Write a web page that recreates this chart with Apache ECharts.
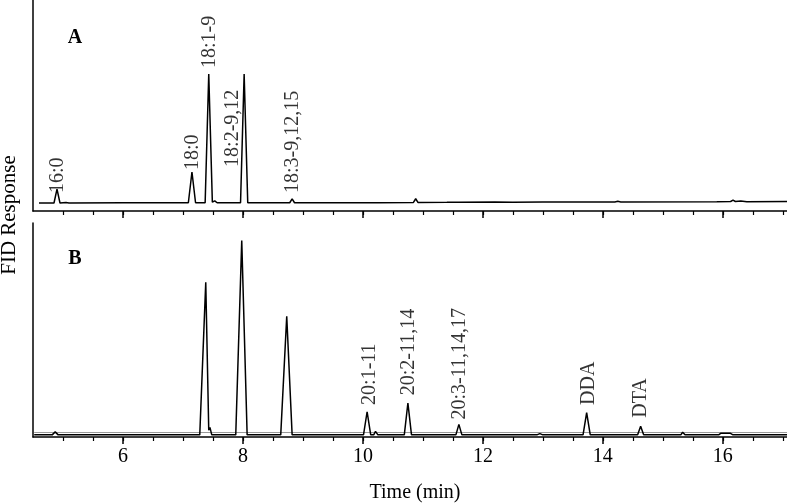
<!DOCTYPE html>
<html>
<head>
<meta charset="utf-8">
<script src="https://cdn.jsdelivr.net/npm/echarts@6/dist/echarts.min.js"></script>
<style>html,body{margin:0;padding:0;background:#fff}#c{width:787px;height:504px}</style>
</head>
<body>
<div id="c"></div>
<script>
// ---- Data (time in min, response in % of panel height) ----
var traceA = [
  [4.60,3.8],[4.85,3.8],[4.90,10.4],[4.95,3.8],[5.05,4.0],[5.10,3.8],[6.00,3.9],
  [7.09,3.9],[7.15,18.5],[7.21,3.9],[7.37,3.9],[7.43,64.9],[7.49,4.2],[7.53,4.8],[7.57,3.9],
  [7.96,3.9],[8.02,64.9],[8.08,3.9],[8.78,3.9],[8.82,5.7],[8.86,3.9],
  [9.88,3.9],[9.91,4.6],[9.95,3.9],[10.18,3.9],[10.21,4.5],[10.25,3.9],
  [10.84,4.0],[10.88,5.8],[10.92,4.0],[11.40,4.1],[11.60,4.2],[12.20,4.3],[12.50,4.2],
  [13.00,4.3],[14.20,4.3],[14.25,4.6],[14.30,4.3],[15.90,4.4],[16.13,4.5],[16.17,5.2],
  [16.21,4.5],[16.30,4.7],[16.40,4.4],[17.07,4.5]
];
var traceB = [
  [4.52,1.0],[4.82,1.0],[4.87,2.4],[4.92,1.0],[5.10,1.0],[5.13,1.9],[5.17,1.0],
  [6.10,1.0],[6.12,1.7],[6.15,1.0],[7.05,1.0],[7.08,1.9],[7.11,1.0],
  [7.28,1.0],[7.38,72.3],[7.43,3.2],[7.45,4.5],[7.48,1.0],
  [7.88,1.0],[7.98,91.8],[8.07,1.0],[8.40,1.0],[8.43,1.8],[8.46,1.0],
  [8.63,1.0],[8.73,56.4],[8.82,1.0],[9.15,1.0],[9.17,1.6],[9.20,1.0],
  [10.01,1.0],[10.07,11.8],[10.13,1.0],[10.18,1.0],[10.21,2.6],[10.25,1.0],
  [10.69,1.0],[10.75,15.9],[10.81,1.0],[11.55,1.0],[11.60,5.9],[11.65,1.0],
  [12.90,1.0],[12.95,1.6],[13.00,1.0],[13.30,1.0],[13.33,1.6],[13.37,1.0],
  [13.67,1.0],[13.73,11.4],[13.79,1.0],[14.58,1.0],[14.63,5.0],[14.68,1.0],
  [15.30,1.0],[15.33,2.2],[15.37,1.0],[15.93,1.0],[15.97,1.8],[16.05,1.7],
  [16.12,1.8],[16.17,1.0],[17.07,1.0]
];
var traceB2 = [[4.52,2.1],[10.0,2.1],[17.07,2.1]];

var labelNamesA = ['16:0','18:0','18:1-9','18:2-9,12','18:3-9,12,15'];
var labelTimesA = [4.92, 7.17, 7.45, 7.83, 8.83];
var labelValsA  = [8.5, 19.4, 67.8, 20.9, 8.5];

var labelNamesB = ['20:1-11','20:2-11,14','20:3-11,14,17','DDA','DTA'];
var labelTimesB = [10.12, 10.77, 11.62, 13.77, 14.63];
var labelValsB  = [15.0, 19.5, 8.2, 15.0, 9.0];

var minorTicks = [5,5.5,6,6.5,7,7.5,8,8.5,9,9.5,10,10.5,11,11.5,12,12.5,13,13.5,14,14.5,15,15.5,16,16.5,17];
var majorTicks = [6,8,10,12,14,16];
var xMin = 4.5, xMax = 17.07;

var serif = 'Liberation Serif';

function lbl(names, times, vals){
  return names.map(function(n,i){ return {name:n, value:[times[i], vals[i]]}; });
}

function xAxisPair(gridIndex, withLabels){
  var base = {
    type:'value', gridIndex:gridIndex, min:xMin, max:xMax, position:'bottom',
    splitLine:{show:false}
  };
  var minor = Object.assign({}, base, {
    axisLine:{show:true, onZero:false, lineStyle:{color:'#000', width:1.5}},
    axisTick:{show:true, customValues:minorTicks, length:4, lineStyle:{color:'#000', width:1.2}},
    axisLabel:{show:false}
  });
  var major = Object.assign({}, base, {
    axisLine:{show:false, onZero:false},
    axisTick:{show:true, customValues:majorTicks, length:7, lineStyle:{color:'#000', width:1.5}},
    axisLabel:{show:withLabels, customValues:majorTicks, margin:10,
      color:'#000', fontFamily:serif, fontSize:20}
  });
  if (withLabels) {
    major.name = 'Time (min)';
    major.nameLocation = 'middle';
    major.nameGap = 46;
    major.nameTextStyle = {color:'#000', fontFamily:serif, fontSize:20, padding:[0,0,0,10]};
  }
  return [minor, major];
}

var chart = echarts.init(document.getElementById('c'), null, {renderer:'canvas'});
chart.setOption({
  animation:false,
  backgroundColor:'#fff',
  grid:[
    {left:33, right:0, top:0, height:211},
    {left:33, right:0, top:223, height:220}
  ],
  xAxis: xAxisPair(0,false).concat(xAxisPair(1,true)),
  yAxis:[0,1].map(function(g){
    return {type:'value', gridIndex:g, min:0, max:100,
      axisLine:{show:true, onZero:false, lineStyle:{color:'#000', width:1.5}},
      axisTick:{show:false}, axisLabel:{show:false}, splitLine:{show:false}};
  }),
  graphic:[
    {type:'text', x:9, y:215, rotation:Math.PI/2,
     style:{text:'FID Response', fontFamily:serif, fontSize:21, fill:'#000', align:'center', verticalAlign:'middle'}},
    {type:'text', x:75, y:38,
     style:{text:'A', fontFamily:serif, fontSize:20, fontWeight:'bold', fill:'#000', align:'center', verticalAlign:'middle'}},
    {type:'text', x:75, y:259,
     style:{text:'B', fontFamily:serif, fontSize:20, fontWeight:'bold', fill:'#000', align:'center', verticalAlign:'middle'}}
  ],
  series:[
    {type:'line', xAxisIndex:0, yAxisIndex:0, data:traceA, symbol:'none',
     lineStyle:{color:'#000', width:1.5}, silent:true},
    {type:'line', xAxisIndex:2, yAxisIndex:1, data:traceB2, symbol:'none',
     lineStyle:{color:'#999', width:1}, silent:true},
    {type:'line', xAxisIndex:2, yAxisIndex:1, data:traceB, symbol:'none',
     lineStyle:{color:'#000', width:1.5}, silent:true},
    {type:'scatter', xAxisIndex:0, yAxisIndex:0, symbolSize:0, data:lbl(labelNamesA,labelTimesA,labelValsA),
     label:{show:true, position:'top', distance:0, rotate:90, align:'left', verticalAlign:'middle',
       formatter:'{b}', color:'#000', fontFamily:serif, fontSize:20}, silent:true},
    {type:'scatter', xAxisIndex:2, yAxisIndex:1, symbolSize:0, data:lbl(labelNamesB,labelTimesB,labelValsB),
     label:{show:true, position:'top', distance:0, rotate:90, align:'left', verticalAlign:'middle',
       formatter:'{b}', color:'#000', fontFamily:serif, fontSize:20}, silent:true}
  ]
});
</script>
</body>
</html>
